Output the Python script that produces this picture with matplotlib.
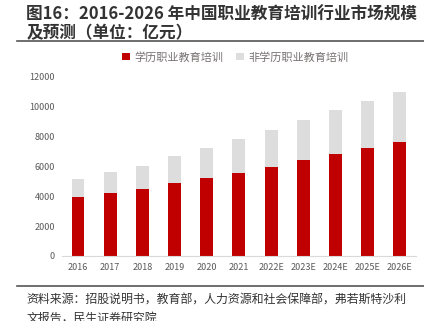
import numpy as np
import matplotlib.pyplot as plt
from matplotlib.lines import Line2D

plt.rcParams['font.family'] = ['Noto Sans CJK SC', 'DejaVu Sans']

years = ['2016', '2017', '2018', '2019', '2020', '2021',
         '2022E', '2023E', '2024E', '2025E', '2026E']
degree = [3950, 4220, 4490, 4890, 5200, 5560, 5960, 6420, 6800, 7220, 7620]
total = [5150, 5600, 6000, 6670, 7200, 7780, 8400, 9070, 9710, 10330, 10930]
non_degree = [t - d for t, d in zip(total, degree)]

red = '#C00000'
grey = '#DDDDDD'
tick_c = '#595959'

fig = plt.figure(figsize=(4.24, 3.21), dpi=100)
ax = fig.add_axes([0.146, 0.2025, 0.835, 0.5605])

x = np.arange(len(years))
width = 0.4
ax.bar(x, degree, width, color=red, label='学历职业教育培训')
ax.bar(x, non_degree, width, bottom=degree, color=grey, label='非学历职业教育培训')

ax.set_xlim(-0.5, len(years) - 0.5)
ax.set_ylim(0, 12000)
ax.set_yticks(np.arange(0, 12001, 2000))
ax.set_xticks(x)
ax.set_xticklabels(years)
ax.tick_params(axis='both', length=0, labelsize=6.5, colors=tick_c, pad=5)
for s in ['top', 'right', 'left']:
    ax.spines[s].set_visible(False)
ax.spines['bottom'].set_color('#D9D9D9')

ax.legend(loc='lower center', bbox_to_anchor=(0.49, 1.02), ncol=2, frameon=False,
          fontsize=8, handlelength=0.7, handleheight=0.7, handletextpad=0.4,
          columnspacing=1.2, labelcolor='#767171')

# title and source
fig.text(0.062, 0.953, '图16：2016-2026 年中国职业教育培训行业市场规模', fontsize=12,
         fontweight='bold', color='#333333', va='center', ha='left')
fig.text(0.062, 0.897, '及预测（单位：亿元）', fontsize=12,
         fontweight='bold', color='#333333', va='center', ha='left')
fig.add_artist(Line2D([0.04, 1.0], [0.872, 0.872], color='#555555', lw=1.2))
fig.add_artist(Line2D([0.04, 1.0], [0.109, 0.109], color='#555555', lw=1.2))
fig.text(0.062, 0.066, '资料来源：招股说明书，教育部，人力资源和社会保障部，弗若斯特沙利',
         fontsize=8.6, color='#333333', va='center', ha='left')
fig.text(0.062, 0.008, '文报告，民生证券研究院',
         fontsize=8.6, color='#333333', va='center', ha='left')

fig.savefig('out.png', dpi=100)
